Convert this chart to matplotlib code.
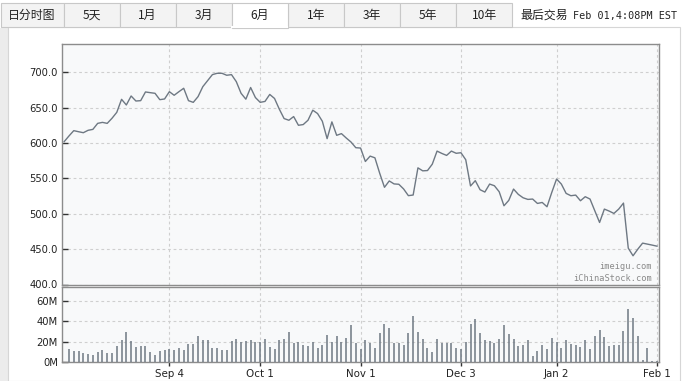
import matplotlib.pyplot as plt
import numpy as np
from matplotlib.patches import Rectangle

plt.rcParams['font.family'] = ['DejaVu Sans']

# daily close; the first value is the close before the first volume bar
price = [
    602.0, 610.0, 617.5, 616.0, 614.6, 618.0, 619.3, 627.8, 629.2, 627.8,
    635.0, 643.4, 661.8, 653.8, 666.5, 659.4, 659.9, 672.2, 671.2, 670.3,
    661.3, 662.3, 672.6, 667.5, 672.6, 677.4, 659.9, 657.5, 665.6, 679.7,
    688.2, 696.7, 698.6, 698.6, 695.8, 696.7, 686.8, 670.3, 662.0, 678.5,
    664.3, 657.5, 658.8, 668.7, 663.0, 647.9, 634.6, 632.2, 637.4, 625.1,
    626.1, 632.2, 646.4, 641.7, 630.8, 606.2, 629.9, 610.9, 613.3, 607.1,
    601.4, 593.4, 592.9, 573.9, 581.5, 579.1, 557.3, 537.4, 546.4, 542.2,
    541.7, 535.1, 525.6, 526.5, 564.9, 560.7, 561.1, 570.1, 588.6, 585.3,
    582.5, 588.6, 585.5, 586.3, 576.4, 539.3, 546.8, 534.0, 530.7, 542.0,
    539.6, 531.1, 511.3, 518.9, 534.9, 527.4, 522.6, 520.3, 520.8, 514.6,
    516.0, 509.9, 530.2, 549.1, 542.0, 528.8, 525.5, 526.4, 518.4, 524.1,
    520.8, 504.2, 487.7, 506.6, 503.8, 500.5, 506.6, 515.1, 451.4, 440.6,
    450.0, 458.5, 457.1, 455.7, 454.2,
]

# daily volume, millions of shares
volume = [
    12.7, 10.7, 10.7, 8.7, 7.7, 6.8, 9.7, 11.7, 8.7, 8.7,
    15.6, 21.5, 29.5, 20.5, 14.6, 15.6, 15.6, 9.7, 6.8, 10.7,
    11.7, 12.7, 11.7, 13.6, 11.7, 17.6, 17.6, 25.5, 21.5, 21.5,
    13.6, 13.6, 11.7, 11.7, 20.5, 22.5, 19.5, 20.5, 21.5, 19.3,
    20.0, 22.5, 14.6, 12.7, 21.5, 22.5, 29.5, 19.0, 19.5, 16.6,
    15.6, 19.5, 13.6, 17.0, 26.5, 19.5, 25.5, 19.5, 23.5, 36.4,
    18.6, 12.7, 21.5, 18.6, 13.6, 28.5, 37.3, 33.4, 18.6, 19.0,
    17.0, 28.5, 45.2, 29.5, 22.5, 13.6, 9.7, 22.5, 18.6, 18.6,
    19.0, 13.6, 12.7, 19.5, 37.3, 42.3, 28.5, 22.0, 21.0, 18.5,
    22.5, 36.4, 27.5, 22.5, 15.6, 16.6, 21.5, 5.8, 10.7, 16.6,
    12.7, 23.5, 19.5, 14.0, 21.5, 18.0, 17.0, 15.0, 21.5, 13.0,
    26.0, 31.0, 24.5, 16.0, 17.0, 17.0, 30.5, 52.0, 43.0, 25.5,
    2.0, 14.0, 1.0, 0.5,
]

date_pos = [21, 40, 61, 82, 102, 123]
date_labels = ["Sep 4", "Oct 1", "Nov 1", "Dec 3", "Jan 2", "Feb 1"]
price_ticks = [400, 450, 500, 550, 600, 650, 700]
vol_ticks = [0, 20, 40, 60]

tabs = ["日分时图", "5天", "1月", "3月", "6月", "1年", "3年", "5年", "10年"]
active = "6月"
last_label = "最后交易"
last_time = "Feb 01,4:08PM EST"

W, H = 684, 381
LINE = "#6e7883"
GRID = "#cfcfcf"
FACE = "#f8f9fa"
SPINE = "#8c8c8c"
CJK = ["Noto Sans CJK SC", "DejaVu Sans"]


def box(l, t, r, b):
    return [l / W, 1 - b / H, (r - l) / W, (b - t) / H]


fig = plt.figure(figsize=(W / 100, H / 100), dpi=100)
fig.patch.set_facecolor("white")

# page chrome: tab strip and left margin, drawn in pixel coordinates
bg = fig.add_axes([0, 0, 1, 1], zorder=-5)
bg.set_xlim(0, W)
bg.set_ylim(H, 0)
bg.axis("off")
bg.add_patch(Rectangle((0, 28), 8, H - 28, facecolor="#ececec", edgecolor="none"))
bg.add_patch(Rectangle((8, 27), W - 12, H - 27, facecolor="white",
                       edgecolor="#d6d6d6", lw=0.8))
x0 = 0.5
for lab in tabs:
    w = 63 if lab == tabs[0] else 56.1
    on = lab == active
    bg.add_patch(Rectangle((x0, 2.5), w, 25 if on else 24.5,
                           facecolor="white" if on else "#f3f3f3",
                           edgecolor="#c8c8c8", lw=0.8, zorder=2 if on else 1))
    if on:
        bg.plot([x0 + 0.6, x0 + w - 0.6], [27.4, 27.4], color="white", lw=1.5, zorder=3)
    bg.text(x0 + w / 2, 15, lab, ha="center", va="center", fontsize=8.6,
            family=CJK, color="#222", zorder=4)
    x0 += w
bg.text(520, 15, last_label, ha="left", va="center", fontsize=8.6,
        family=CJK, color="#222")
bg.text(677, 15.5, last_time, ha="right", va="center", fontsize=7.3,
        family="DejaVu Sans Mono", color="#222")

ax = fig.add_axes(box(62, 44, 659, 284.5))
axv = fig.add_axes(box(62, 287.3, 659, 362), sharex=ax)

px = np.arange(len(price)) - 1
vx = np.arange(len(volume))

ax.plot(px, price, color=LINE, lw=1.0, zorder=3)
axv.vlines(vx, 0, volume, color=LINE, lw=1.1, zorder=3)

ax.set_xlim(-1.46, 123.43)
ax.set_ylim(400, 740)
axv.set_ylim(0, 73.4)

ax.set_yticks(price_ticks)
ax.set_yticklabels([f"{v:.1f}" for v in price_ticks])
axv.set_yticks(vol_ticks)
axv.set_yticklabels([f"{v}M" for v in vol_ticks])
axv.set_xticks(date_pos)
axv.set_xticklabels(date_labels)
ax.tick_params(axis="x", bottom=False, labelbottom=False)

for a in (ax, axv):
    a.set_facecolor(FACE)
    for s in a.spines.values():
        s.set_color(SPINE)
        s.set_linewidth(1.0)
    a.grid(True, color=GRID, lw=0.8, linestyle=(0, (2.5, 2.5)))
    a.set_axisbelow(True)
    a.tick_params(axis="y", direction="in", length=4, width=1, color="#333",
                  labelsize=7.2, labelcolor="#222", pad=3)
axv.tick_params(axis="x", direction="out", length=3, width=1, color="#333",
                labelsize=7.4, labelcolor="#222", pad=2)

ax.text(0.988, 0.075, "imeigu.com", transform=ax.transAxes, ha="right",
        va="center", family="DejaVu Sans Mono", fontsize=6.2, color="#8a8a8a")
ax.text(0.988, 0.027, "iChinaStock.com", transform=ax.transAxes, ha="right",
        va="center", family="DejaVu Sans Mono", fontsize=6.2, color="#8a8a8a")

fig.savefig("out.png", dpi=100)
